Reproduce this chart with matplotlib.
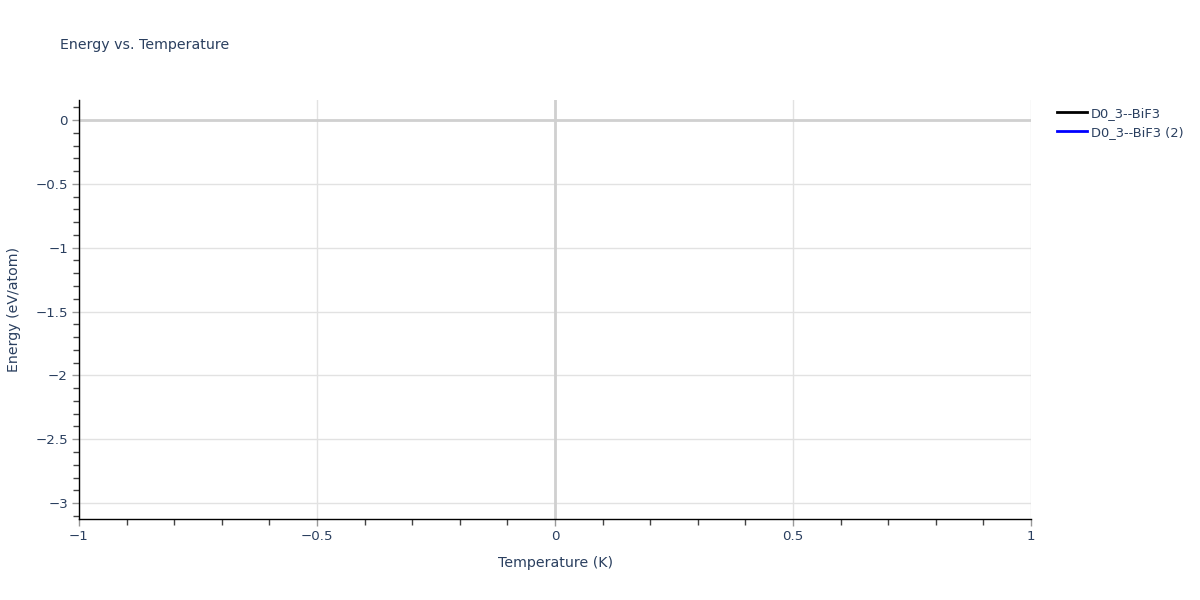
import matplotlib
matplotlib.use("Agg")
import matplotlib.pyplot as plt
from matplotlib.ticker import MultipleLocator, FuncFormatter

# series data (no points shown in the reference)
series_names = ["D0_3--BiF3", "D0_3--BiF3 (2)"]
series_colors = ["black", "blue"]
temperature = [[], []]
energy = [[], []]

x_range = (-1, 1)
y_range = (-3.125, 0.157)

txt = "#2a3f5f"
plt.rcParams["font.family"] = ["DejaVu Sans"]

fig = plt.figure(figsize=(12, 6), dpi=100)
ax = fig.add_axes([79 / 1200, 81 / 600, 952 / 1200, 419 / 600])

for i in range(len(series_names)):
    ax.plot(temperature[i], energy[i], color=series_colors[i], lw=2, label=series_names[i])

ax.set_xlim(*x_range)
ax.set_ylim(*y_range)

ax.xaxis.set_major_locator(MultipleLocator(0.5))
ax.xaxis.set_minor_locator(MultipleLocator(0.1))
ax.yaxis.set_major_locator(MultipleLocator(0.5))
ax.yaxis.set_minor_locator(MultipleLocator(0.1))

def fmt(v, pos):
    s = ("%g" % round(v, 3))
    if s == "-0":
        s = "0"
    return s.replace("-", "\u2212")

ax.xaxis.set_major_formatter(FuncFormatter(fmt))
ax.yaxis.set_major_formatter(FuncFormatter(fmt))

ax.grid(True, which="major", color="#e2e2e2", lw=1)
ax.set_axisbelow(True)
ax.axhline(0, color="#d0d0d0", lw=2, zorder=1)
ax.axvline(0, color="#d0d0d0", lw=2, zorder=1)

for s in ["top", "right"]:
    ax.spines[s].set_visible(False)
for s in ["left", "bottom"]:
    ax.spines[s].set_color("black")
    ax.spines[s].set_linewidth(1)

ax.tick_params(which="major", length=5, width=1, color="#999999", labelsize=9.6, labelcolor=txt, pad=3)
ax.tick_params(which="minor", length=4, width=1, color="#444444")

ax.set_xlabel("Temperature (K)", fontsize=10.2, color=txt)
ax.set_ylabel("Energy (eV/atom)", fontsize=10.2, color=txt)
ax.xaxis.set_label_coords((555 - 79) / 952, (519 - 563) / 419)
ax.yaxis.set_label_coords((14 - 79) / 952, (519 - 310) / 419)
ax.xaxis.label.set_va("center")
ax.yaxis.label.set_va("center")

fig.text(60 / 1200, 1 - 45 / 600, "Energy vs. Temperature", fontsize=10.2, color=txt, va="center", ha="left")

leg = ax.legend(loc="upper left", bbox_to_anchor=((1057 - 79) / 952, (519 - 107) / 419), frameon=False,
                fontsize=9.4, handlelength=2.3, handletextpad=0.3, labelspacing=0.45,
                borderaxespad=0, borderpad=0)
for t in leg.get_texts():
    t.set_color(txt)

fig.savefig("out.png", dpi=100)
